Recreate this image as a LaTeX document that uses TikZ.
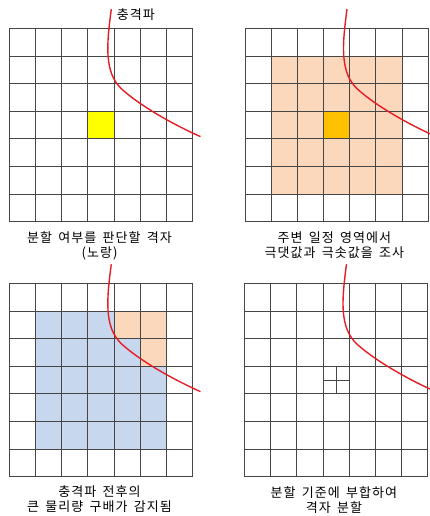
\documentclass[tikz,border=0pt]{standalone}
\usepackage{fontspec}
\setmainfont{Noto Sans CJK KR}
\newfontfamily\capfont[LetterSpace=8,WordSpace=1.6]{Noto Sans CJK KR}
\usetikzlibrary{positioning}
\definecolor{gridline}{RGB}{70,70,70}
\definecolor{shockred}{RGB}{230,28,36}
\definecolor{peach}{RGB}{251,215,187}
\definecolor{hotorange}{RGB}{255,192,0}
\definecolor{paleblue}{RGB}{198,215,238}
\definecolor{target}{RGB}{255,255,0}

\newcommand{\meshlines}{%
  \foreach \k in {0,...,7} {
    \draw[cellline] (\k,0) -- (\k,7);
    \draw[cellline] (0,\k) -- (7,\k);
  }}
\newcommand{\shockfront}{%
  \draw[shock] (3.90,-0.69) .. controls (3.72,0.6) and (3.62,1.6) .. (4.3,2.2)
    .. controls (5.0,2.8) and (6.2,3.45) .. (7.31,3.92);}

\begin{document}
\begin{tikzpicture}[
  cellline/.style={draw=gridline,line width=0.7pt},
  shock/.style={draw=shockred,line width=1.4pt},
  caption/.style={font=\capfont\fontsize{13}{15}\selectfont,align=center},
  panel/.style={x=26.15pt,y=-27.63pt}
]
\useasboundingbox (0pt,0pt) rectangle (429pt,-516pt);

% top left: cell to be judged
\begin{scope}[shift={(9.3pt,-28.3pt)},panel]
  \fill[target] (3,3) rectangle (4,4);
  \meshlines
  \shockfront
  \node[caption,anchor=west] (shocklabel) at (3.98,-0.48) {충격파};
  \node[caption] (cap1) at (3.45,7.89) {분할 여부를 판단할 격자\\(노랑)};
\end{scope}

% top right: surrounding region
\begin{scope}[shift={(245pt,-28.3pt)},panel]
  \fill[peach] (1,1) rectangle (6,6);
  \fill[hotorange] (3,3) rectangle (4,4);
  \meshlines
  \shockfront
  \node[caption] (cap2) at (3.42,7.84) {주변 일정 영역에서\\극댓값과 극솟값을 조사};
\end{scope}

% bottom left: gradient detected
\begin{scope}[shift={(9.3pt,-283.3pt)},panel]
  \fill[paleblue] (1,1) rectangle (6,6);
  \fill[peach] (4,1) rectangle (6,2);
  \fill[peach] (5,2) rectangle (6,3);
  \meshlines
  \shockfront
  \node[caption] (cap3) at (3.45,7.80) {충격파 전후의\\큰 물리량 구배가 감지됨};
\end{scope}

% bottom right: refined cell
\begin{scope}[shift={(244.5pt,-283.3pt)},panel]
  \meshlines
  \draw[cellline] (3.5,3) -- (3.5,4);
  \draw[cellline] (3,3.5) -- (4,3.5);
  \shockfront
  \node[caption] (cap4) at (3.42,7.85) {분할 기준에 부합하여\\격자 분할};
\end{scope}
\end{tikzpicture}
\end{document}
